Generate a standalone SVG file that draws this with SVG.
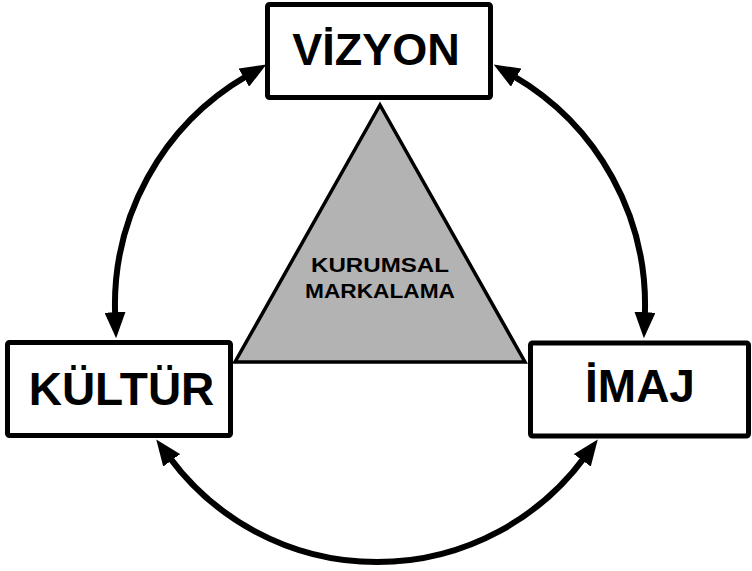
<svg xmlns="http://www.w3.org/2000/svg" width="752" height="571" viewBox="0 0 752 571">
<style>
.box{fill:#fff;stroke:#000;stroke-width:5;stroke-linejoin:round}
.lbl{font-family:"Liberation Sans",Arial,sans-serif;font-weight:bold;fill:#000;text-anchor:middle}
.arc{fill:none;stroke:#000;stroke-width:6}
</style>
<defs>
<marker id="ah" viewBox="0 0 26 21" refX="4" refY="10.5" markerWidth="26" markerHeight="21" markerUnits="userSpaceOnUse" orient="auto-start-reverse">
<path d="M0,0 L26,10.5 L0,21 z" fill="#000"/>
</marker>
</defs>
<g id="connectors">
<path class="arc" d="M 247.3 75.6 A 265 265 0 0 0 115.2 316.2" marker-start="url(#ah)" marker-end="url(#ah)"/>
<path class="arc" d="M 512.7 75.6 A 265 265 0 0 1 644.8 316.2" marker-start="url(#ah)" marker-end="url(#ah)"/>
<path class="arc" d="M 169.3 457.1 A 258 258 0 0 0 584.7 457.1" marker-start="url(#ah)" marker-end="url(#ah)"/>
</g>
<g id="kurumsal">
<polygon points="380,105 235,362 525,362" fill="#b3b3b3" stroke="#000" stroke-width="3.5" stroke-linejoin="miter"/>
<text class="lbl" x="380" y="272" font-size="21" textLength="138" lengthAdjust="spacingAndGlyphs">KURUMSAL</text>
<text class="lbl" x="380" y="298" font-size="21" textLength="150" lengthAdjust="spacingAndGlyphs">MARKALAMA</text>
</g>
<g id="vizyon">
<rect class="box" x="267.5" y="4.5" width="223" height="93" rx="2"/>
<text class="lbl" x="376" y="65" font-size="45">VİZYON</text>
</g>
<g id="kultur">
<rect class="box" x="7.5" y="342.5" width="223" height="93" rx="2"/>
<text class="lbl" x="121.5" y="405" font-size="46">KÜLTÜR</text>
</g>
<g id="imaj">
<rect class="box" x="530.5" y="343" width="218" height="93" rx="2"/>
<text class="lbl" x="640" y="402" font-size="46">İMAJ</text>
</g>
</svg>
